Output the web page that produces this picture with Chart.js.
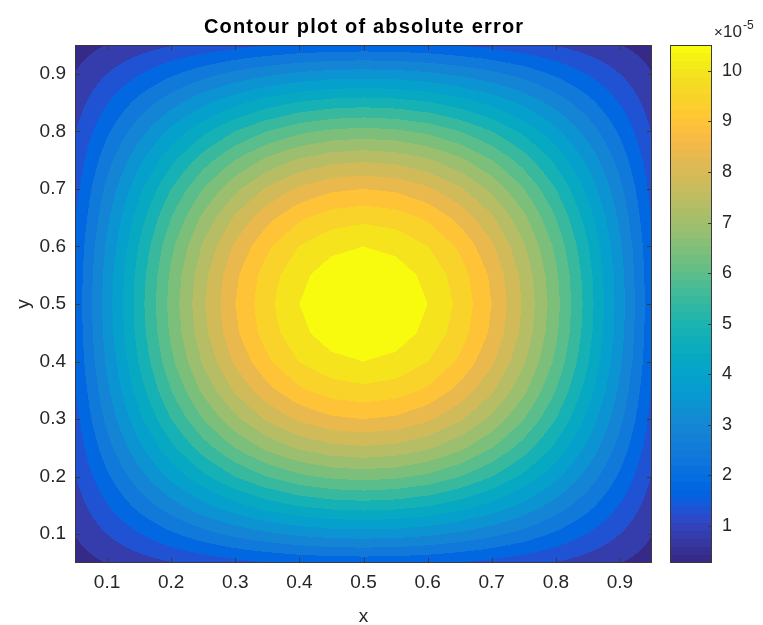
<!DOCTYPE html>
<html>
<head>
<meta charset="utf-8">
<title>Contour plot of absolute error</title>
<script src="https://cdn.jsdelivr.net/npm/chart.js@4.4.1/dist/chart.umd.min.js"></script>
<style>
  html, body { margin: 0; padding: 0; background: #fff; }
  #wrap { position: relative; width: 763px; height: 625px; }
  #wrap canvas { position: absolute; left: 0; top: 0; }
</style>
</head>
<body>
<div id="wrap">
  <canvas id="contourChart" width="763" height="625"></canvas>
  <canvas id="colorbarChart" width="763" height="625"></canvas>
</div>
<script>
// grid nodes (x and y), values in units of 1e-5
const xGrid = [0.05, 0.10, 0.15, 0.20, 0.25, 0.30, 0.35, 0.40, 0.45, 0.50, 0.55, 0.60, 0.65, 0.70, 0.75, 0.80, 0.85, 0.90, 0.95];
const yGrid = [0.05, 0.10, 0.15, 0.20, 0.25, 0.30, 0.35, 0.40, 0.45, 0.50, 0.55, 0.60, 0.65, 0.70, 0.75, 0.80, 0.85, 0.90, 0.95];

// rows follow yGrid, columns follow xGrid
const errorGrid = [
    [0.26, 0.51, 0.75, 0.97, 1.16, 1.33, 1.46, 1.56, 1.62, 1.64, 1.62, 1.56, 1.46, 1.33, 1.16, 0.97, 0.75, 0.51, 0.26],
    [0.51, 1.00, 1.47, 1.91, 2.30, 2.63, 2.89, 3.09, 3.21, 3.25, 3.21, 3.09, 2.89, 2.63, 2.30, 1.91, 1.47, 1.00, 0.51],
    [0.75, 1.47, 2.17, 2.80, 3.37, 3.86, 4.25, 4.54, 4.71, 4.77, 4.71, 4.54, 4.25, 3.86, 3.37, 2.80, 2.17, 1.47, 0.75],
    [0.97, 1.91, 2.80, 3.63, 4.37, 5.00, 5.50, 5.88, 6.10, 6.18, 6.10, 5.88, 5.50, 5.00, 4.37, 3.63, 2.80, 1.91, 0.97],
    [1.16, 2.30, 3.37, 4.37, 5.25, 6.01, 6.62, 7.07, 7.34, 7.43, 7.34, 7.07, 6.62, 6.01, 5.25, 4.37, 3.37, 2.30, 1.16],
    [1.33, 2.63, 3.86, 5.00, 6.01, 6.88, 7.58, 8.09, 8.40, 8.50, 8.40, 8.09, 7.58, 6.88, 6.01, 5.00, 3.86, 2.63, 1.33],
    [1.46, 2.89, 4.25, 5.50, 6.62, 7.58, 8.34, 8.91, 9.25, 9.36, 9.25, 8.91, 8.34, 7.58, 6.62, 5.50, 4.25, 2.89, 1.46],
    [1.56, 3.09, 4.54, 5.88, 7.07, 8.09, 8.91, 9.51, 9.87, 10.00, 9.87, 9.51, 8.91, 8.09, 7.07, 5.88, 4.54, 3.09, 1.56],
    [1.62, 3.21, 4.71, 6.10, 7.34, 8.40, 9.25, 9.87, 10.25, 10.38, 10.25, 9.87, 9.25, 8.40, 7.34, 6.10, 4.71, 3.21, 1.62],
    [1.64, 3.25, 4.77, 6.18, 7.43, 8.50, 9.36, 10.00, 10.38, 10.51, 10.38, 10.00, 9.36, 8.50, 7.43, 6.18, 4.77, 3.25, 1.64],
    [1.62, 3.21, 4.71, 6.10, 7.34, 8.40, 9.25, 9.87, 10.25, 10.38, 10.25, 9.87, 9.25, 8.40, 7.34, 6.10, 4.71, 3.21, 1.62],
    [1.56, 3.09, 4.54, 5.88, 7.07, 8.09, 8.91, 9.51, 9.87, 10.00, 9.87, 9.51, 8.91, 8.09, 7.07, 5.88, 4.54, 3.09, 1.56],
    [1.46, 2.89, 4.25, 5.50, 6.62, 7.58, 8.34, 8.91, 9.25, 9.36, 9.25, 8.91, 8.34, 7.58, 6.62, 5.50, 4.25, 2.89, 1.46],
    [1.33, 2.63, 3.86, 5.00, 6.01, 6.88, 7.58, 8.09, 8.40, 8.50, 8.40, 8.09, 7.58, 6.88, 6.01, 5.00, 3.86, 2.63, 1.33],
    [1.16, 2.30, 3.37, 4.37, 5.25, 6.01, 6.62, 7.07, 7.34, 7.43, 7.34, 7.07, 6.62, 6.01, 5.25, 4.37, 3.37, 2.30, 1.16],
    [0.97, 1.91, 2.80, 3.63, 4.37, 5.00, 5.50, 5.88, 6.10, 6.18, 6.10, 5.88, 5.50, 5.00, 4.37, 3.63, 2.80, 1.91, 0.97],
    [0.75, 1.47, 2.17, 2.80, 3.37, 3.86, 4.25, 4.54, 4.71, 4.77, 4.71, 4.54, 4.25, 3.86, 3.37, 2.80, 2.17, 1.47, 0.75],
    [0.51, 1.00, 1.47, 1.91, 2.30, 2.63, 2.89, 3.09, 3.21, 3.25, 3.21, 3.09, 2.89, 2.63, 2.30, 1.91, 1.47, 1.00, 0.51],
    [0.26, 0.51, 0.75, 0.97, 1.16, 1.33, 1.46, 1.56, 1.62, 1.64, 1.62, 1.56, 1.46, 1.33, 1.16, 0.97, 0.75, 0.51, 0.26]
];

// contour levels (1e-5)
const contourLevels = [0.5, 1.0, 1.5, 2.0, 2.5, 3.0, 3.5, 4.0, 4.5, 5.0, 5.5, 6.0, 6.5, 7.0, 7.5, 8.0, 8.5, 9.0, 9.5, 10.0];

// tick labels
const xTicks = [0.1, 0.2, 0.3, 0.4, 0.5, 0.6, 0.7, 0.8, 0.9];
const yTicks = [0.1, 0.2, 0.3, 0.4, 0.5, 0.6, 0.7, 0.8, 0.9];
const colorbarTicks = [1, 2, 3, 4, 5, 6, 7, 8, 9, 10];
const colorbarRange = [0.27, 10.51];

// parula colormap, 64 entries
const PARULA = [
    [0.2081, 0.1663, 0.5292], [0.2116, 0.1898, 0.5777], [0.2123, 0.2138, 0.6270], [0.2081, 0.2386, 0.6771],
    [0.1959, 0.2645, 0.7279], [0.1707, 0.2919, 0.7792], [0.1253, 0.3242, 0.8303], [0.0591, 0.3598, 0.8683],
    [0.0117, 0.3875, 0.8820], [0.0060, 0.4086, 0.8828], [0.0165, 0.4266, 0.8786], [0.0329, 0.4430, 0.8720],
    [0.0498, 0.4586, 0.8641], [0.0629, 0.4737, 0.8554], [0.0723, 0.4887, 0.8467], [0.0779, 0.5040, 0.8384],
    [0.0793, 0.5200, 0.8312], [0.0749, 0.5375, 0.8263], [0.0641, 0.5570, 0.8240], [0.0488, 0.5772, 0.8228],
    [0.0343, 0.5966, 0.8199], [0.0265, 0.6137, 0.8135], [0.0239, 0.6287, 0.8038], [0.0231, 0.6418, 0.7913],
    [0.0228, 0.6535, 0.7768], [0.0267, 0.6642, 0.7607], [0.0384, 0.6743, 0.7436], [0.0590, 0.6838, 0.7254],
    [0.0843, 0.6928, 0.7062], [0.1133, 0.7015, 0.6859], [0.1453, 0.7098, 0.6646], [0.1801, 0.7177, 0.6424],
    [0.2178, 0.7250, 0.6193], [0.2586, 0.7317, 0.5954], [0.3022, 0.7376, 0.5712], [0.3482, 0.7424, 0.5473],
    [0.3953, 0.7459, 0.5244], [0.4420, 0.7481, 0.5033], [0.4871, 0.7491, 0.4840], [0.5300, 0.7491, 0.4661],
    [0.5709, 0.7485, 0.4494], [0.6099, 0.7473, 0.4337], [0.6473, 0.7456, 0.4188], [0.6834, 0.7435, 0.4044],
    [0.7184, 0.7411, 0.3905], [0.7525, 0.7384, 0.3768], [0.7858, 0.7356, 0.3633], [0.8185, 0.7327, 0.3498],
    [0.8507, 0.7299, 0.3360], [0.8824, 0.7274, 0.3217], [0.9139, 0.7258, 0.3063], [0.9450, 0.7261, 0.2886],
    [0.9739, 0.7314, 0.2666], [0.9938, 0.7455, 0.2403], [0.9990, 0.7653, 0.2164], [0.9955, 0.7861, 0.1967],
    [0.9880, 0.8066, 0.1794], [0.9789, 0.8271, 0.1633], [0.9697, 0.8481, 0.1475], [0.9626, 0.8705, 0.1309],
    [0.9589, 0.8949, 0.1132], [0.9598, 0.9218, 0.0948], [0.9661, 0.9514, 0.0755], [0.9763, 0.9831, 0.0538]
];

const FONT = '"Liberation Sans", Arial, Helvetica, sans-serif';
const TEXT_COLOR = '#262626';
const LINE_COLOR = '#3a3a3a';

const parulaRGB = (t) => {
    const i = Math.max(0, Math.min(63, Math.round(t * 63)));
    return PARULA[i].map(c => Math.round(c * 255));
};

// colour of each filled band (0 = below first level)
const bandColors = [];
for (let k = 0; k <= contourLevels.length; k++) {
    bandColors.push(parulaRGB(k / contourLevels.length));
}

// find grid cell + fraction for a data value
const locate = (grid, v) => {
    if (v <= grid[0]) return [0, 0];
    for (let i = 0; i < grid.length - 1; i++) {
        if (v <= grid[i + 1]) return [i, (v - grid[i]) / (grid[i + 1] - grid[i])];
    }
    return [grid.length - 2, 1];
};

// filled contours, one pixel at a time, positions from the chart scales
const contourFill = {
    id: 'contourFill',
    beforeDatasetsDraw(chart) {
        const {ctx, chartArea: a, scales: {x, y}} = chart;
        const left = Math.round(a.left), top = Math.round(a.top);
        const w = Math.round(a.right) - left, h = Math.round(a.bottom) - top;
        const img = ctx.createImageData(w, h);
        const cols = [], rows = [];
        for (let px = 0; px < w; px++) cols.push(locate(xGrid, x.getValueForPixel(left + px + 0.5)));
        for (let py = 0; py < h; py++) rows.push(locate(yGrid, y.getValueForPixel(top + py + 0.5)));

        for (let py = 0; py < h; py++) {
            const [j, fy] = rows[py];
            for (let px = 0; px < w; px++) {
                const [i, fx] = cols[px];
                const z0 = errorGrid[j][i] * (1 - fx) + errorGrid[j][i + 1] * fx;
                const z1 = errorGrid[j + 1][i] * (1 - fx) + errorGrid[j + 1][i + 1] * fx;
                const z = z0 * (1 - fy) + z1 * fy;
                let k = 0;
                while (k < contourLevels.length && z >= contourLevels[k]) k++;
                const c = bandColors[k];
                const o = (py * w + px) * 4;
                img.data[o] = c[0];
                img.data[o + 1] = c[1];
                img.data[o + 2] = c[2];
                img.data[o + 3] = 255;
            }
        }
        ctx.putImageData(img, left, top);
    }
};

// box + inward ticks like matlab
const axesBox = {
    id: 'axesBox',
    afterDraw(chart, args, opts) {
        const {ctx, chartArea: a, scales} = chart;
        const len = opts.tickLength;
        ctx.save();
        ctx.strokeStyle = LINE_COLOR;
        ctx.lineWidth = 1;
        ctx.beginPath();
        if (opts.xTicks) {
            opts.xTicks.forEach(v => {
                const px = Math.round(scales.x.getPixelForValue(v)) + 0.5;
                ctx.moveTo(px, a.bottom); ctx.lineTo(px, a.bottom - len);
                ctx.moveTo(px, a.top); ctx.lineTo(px, a.top + len);
            });
        }
        if (opts.yTicks) {
            opts.yTicks.forEach(v => {
                const py = Math.round(scales.y.getPixelForValue(v)) + 0.5;
                if (opts.leftTicks) { ctx.moveTo(a.left, py); ctx.lineTo(a.left + len, py); }
                ctx.moveTo(a.right, py); ctx.lineTo(a.right - len, py);
            });
        }
        ctx.stroke();
        ctx.strokeRect(Math.round(a.left) + 0.5, Math.round(a.top) + 0.5,
            Math.round(a.right - a.left) - 1, Math.round(a.bottom - a.top) - 1);

        if (opts.title) {
            ctx.fillStyle = '#000';
            ctx.font = 'bold 20px ' + FONT;
            ctx.letterSpacing = '1.2px';
            ctx.textAlign = 'center';
            ctx.textBaseline = 'middle';
            ctx.fillText(opts.title, (a.left + a.right) / 2 + 0.6, 27);
        }
        ctx.restore();
    }
};

const gridPoints = [];
yGrid.forEach((yv, j) => xGrid.forEach((xv, i) => gridPoints.push({x: xv, y: yv, v: errorGrid[j][i]})));

new Chart(document.getElementById('contourChart'), {
    type: 'scatter',
    data: {
        datasets: [{
            label: 'absolute error',
            data: gridPoints,
            pointRadius: 0,
            pointHoverRadius: 0
        }]
    },
    options: {
        responsive: false,
        animation: false,
        devicePixelRatio: 1,
        layout: { padding: { top: 45, right: 111, bottom: 0, left: 0 } },
        plugins: {
            legend: { display: false },
            tooltip: { enabled: false },
            axesBox: { tickLength: 5, xTicks: xTicks, yTicks: yTicks, leftTicks: true, title: 'Contour plot of absolute error' }
        },
        scales: {
            x: {
                type: 'linear', min: 0.05, max: 0.95,
                afterBuildTicks: s => { s.ticks = xTicks.map(v => ({ value: v })); },
                afterFit: s => { s.height = 62; },
                grid: { display: false, drawTicks: false },
                border: { display: false },
                ticks: { autoSkip: false, maxRotation: 0, padding: 8, color: TEXT_COLOR, font: { size: 19, family: FONT }, callback: v => v.toFixed(1) },
                title: { display: true, text: 'x', color: TEXT_COLOR, font: { size: 19, family: FONT, lineHeight: 1 }, padding: { top: 0, bottom: -1 } }
            },
            y: {
                type: 'linear', min: 0.05, max: 0.95,
                afterBuildTicks: s => { s.ticks = yTicks.map(v => ({ value: v })); },
                afterFit: s => { s.width = 75; },
                grid: { display: false, drawTicks: false },
                border: { display: false },
                ticks: { autoSkip: false, padding: 9, color: TEXT_COLOR, font: { size: 19, family: FONT }, callback: v => v.toFixed(1) },
                title: { display: true, text: 'y', color: TEXT_COLOR, font: { size: 19, family: FONT, lineHeight: 1 }, padding: { top: 14, bottom: 0 } }
            }
        }
    },
    plugins: [contourFill, axesBox]
});

// COLORBAR
const colorbarFill = {
    id: 'colorbarFill',
    beforeDatasetsDraw(chart) {
        const {ctx, chartArea: a, scales: {y}} = chart;
        const [lo, hi] = colorbarRange;
        for (let py = Math.round(a.top); py < Math.round(a.bottom); py++) {
            const t = (y.getValueForPixel(py + 0.5) - lo) / (hi - lo);
            const i = Math.max(0, Math.min(63, Math.floor(t * 64)));
            const c = PARULA[i];
            ctx.fillStyle = `rgb(${Math.round(c[0] * 255)},${Math.round(c[1] * 255)},${Math.round(c[2] * 255)})`;
            ctx.fillRect(a.left, py, a.right - a.left, 1);
        }
    },
    afterDraw(chart) {
        const {ctx, chartArea: a} = chart;
        ctx.save();
        ctx.fillStyle = TEXT_COLOR;
        ctx.textBaseline = 'alphabetic';
        ctx.textAlign = 'left';
        ctx.font = '15px ' + FONT;
        ctx.fillText('\u00d7', a.right + 2, 37);
        ctx.font = '17px ' + FONT;
        ctx.fillText('10', a.right + 11, 37);
        ctx.font = '12px ' + FONT;
        ctx.fillText('-5', a.right + 31, 29);
        ctx.restore();
    }
};

new Chart(document.getElementById('colorbarChart'), {
    type: 'scatter',
    data: { datasets: [{ data: [], pointRadius: 0 }] },
    options: {
        responsive: false,
        animation: false,
        devicePixelRatio: 1,
        layout: { padding: { top: 45, right: 0, bottom: 62, left: 670 } },
        plugins: {
            legend: { display: false },
            tooltip: { enabled: false },
            axesBox: { tickLength: 4, yTicks: colorbarTicks, leftTicks: false }
        },
        scales: {
            x: { type: 'linear', display: false, min: 0, max: 1 },
            y: {
                type: 'linear', position: 'right',
                min: colorbarRange[0], max: colorbarRange[1],
                afterBuildTicks: s => { s.ticks = colorbarTicks.map(v => ({ value: v })); },
                afterFit: s => { s.width = 51; },
                grid: { display: false, drawTicks: false },
                border: { display: false },
                ticks: { autoSkip: false, padding: 10, color: TEXT_COLOR, font: { size: 18, family: FONT } }
            }
        }
    },
    plugins: [colorbarFill, axesBox]
});
</script>
</body>
</html>
